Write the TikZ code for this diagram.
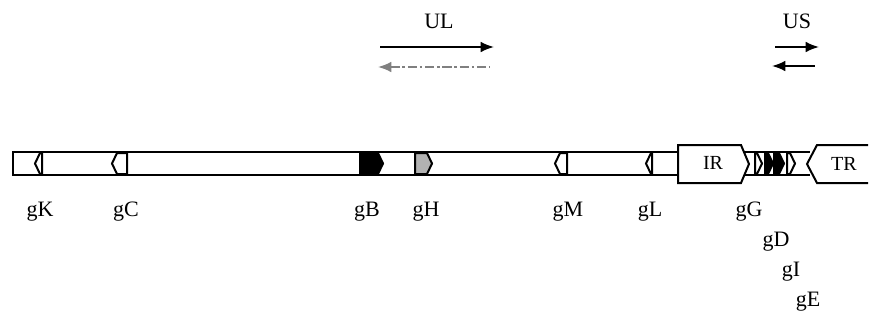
\documentclass[tikz,border=0pt]{standalone}
\usepackage{fontspec}
\setmainfont{Liberation Serif}
\usetikzlibrary{arrows.meta}
\begin{document}
\begin{tikzpicture}[x=0.75pt,y=-0.75pt,
  outline/.style={draw=black,line width=1.5pt,line join=miter},
  genelabel/.style={font=\fontsize{16.5}{18}\selectfont,inner sep=0pt},
  regionlabel/.style={font=\fontsize{15}{17}\selectfont,inner sep=0pt},
  dirarrow/.style={line width=1.3pt,-{Latex[length=10pt,width=8pt]}},
  revarrow/.style={line width=1.3pt,{Latex[length=10pt,width=8pt]}-}]
\useasboundingbox (0,0) rectangle (869,322);

% unique long segment
\draw[outline,fill=white] (13,152) rectangle (678,175);
% short segment between the repeats
\draw[outline] (744,152) -- (810,152) (744,175) -- (810,175);

% gene markers: left-pointing and right-pointing pentagons
\newcommand{\genel}[3]{\draw[outline,fill=#3] (#2,153) -- (#1+5,153) -- (#1,163.5) -- (#1+5,174) -- (#2,174) -- cycle;}
\newcommand{\gener}[3]{\draw[outline,fill=#3] (#1,153) -- (#2-5,153) -- (#2,163.5) -- (#2-5,174) -- (#1,174) -- cycle;}
\genel{35}{42}{white}
\genel{112}{127}{white}
\gener{360}{383}{black}
\gener{415}{432}{gray!60}
\genel{555}{567}{white}
\genel{646}{652}{white}
\gener{755}{762}{white}
\gener{765}{773}{black}
\gener{774}{784}{black}
\gener{787}{795}{white}

% inverted repeats
\draw[outline,fill=white] (678,145) -- (741,145) -- (749,164) -- (741,183) -- (678,183) -- cycle;
\draw[outline,fill=white] (868,145) -- (817,145) -- (807,164) -- (817,183) -- (868,183);
\node[regionlabel] (ir) at (713,163) {IR};
\node[regionlabel] (tr) at (844,164) {TR};

% gene names
\node[genelabel] (gK) at (40,212) {gK};
\node[genelabel] (gC) at (126,212) {gC};
\node[genelabel] (gB) at (367,212) {gB};
\node[genelabel] (gH) at (426,212) {gH};
\node[genelabel] (gM) at (568,212) {gM};
\node[genelabel] (gL) at (650,212) {gL};
\node[genelabel] (gG) at (749,212) {gG};
\node[genelabel] (gD) at (776,242) {gD};
\node[genelabel] (gI) at (791,272) {gI};
\node[genelabel] (gE) at (808,302) {gE};

% transcription direction arrows
\node[genelabel] (ul) at (439,21) {UL};
\coordinate (ulA) at (380,47);
\coordinate (ulB) at (494,47);
\coordinate (ulC) at (378,67);
\coordinate (ulD) at (490,67);
\draw[dirarrow] (ulA) -- (ulB);
\draw[revarrow,gray,dash pattern=on 7pt off 2pt on 2pt off 2pt] (ulC) -- (ulD);

\node[genelabel] (us) at (797,21) {US};
\coordinate (usA) at (775,47);
\coordinate (usB) at (819,47);
\coordinate (usC) at (772,66);
\coordinate (usD) at (815,66);
\draw[dirarrow] (usA) -- (usB);
\draw[revarrow] (usC) -- (usD);
\end{tikzpicture}
\end{document}
